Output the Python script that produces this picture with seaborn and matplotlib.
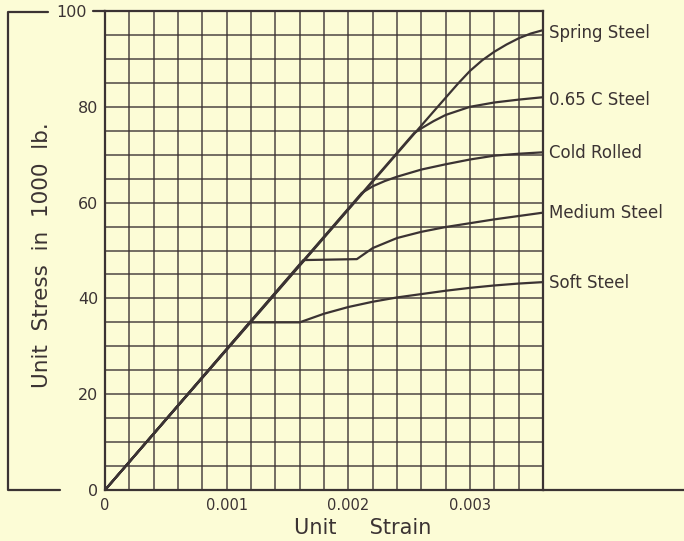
import numpy as np
import pandas as pd
import matplotlib
matplotlib.use("Agg")
import matplotlib.pyplot as plt
import matplotlib.transforms as mtransforms
from matplotlib.lines import Line2D
import seaborn as sns

# stress-strain curves (strain, stress in 1000 lb)
spring_strain = [0, 0.0027, 0.0029, 0.0030, 0.0031, 0.0032, 0.0033, 0.0034, 0.0035, 0.0036]
spring_stress = [0, 79.0, 84.8, 87.5, 89.7, 91.5, 93.0, 94.3, 95.3, 96.0]

c065_strain = [0, 0.00254, 0.0026, 0.0027, 0.0028, 0.0030, 0.0032, 0.0034, 0.0036]
c065_stress = [0, 74.5, 75.5, 77.0, 78.3, 80.0, 80.9, 81.5, 82.0]

cold_strain = [0, 0.00211, 0.0022, 0.0023, 0.0024, 0.0026, 0.0028, 0.0030, 0.0032, 0.0034, 0.0036]
cold_stress = [0, 62.0, 63.4, 64.5, 65.4, 66.9, 68.0, 69.0, 69.8, 70.2, 70.5]

medium_strain = [0, 0.00163, 0.00207, 0.0022, 0.0024, 0.0026, 0.0028, 0.0030, 0.0032, 0.0034, 0.0036]
medium_stress = [0, 48.0, 48.2, 50.5, 52.6, 53.9, 54.9, 55.7, 56.5, 57.2, 57.9]

soft_strain = [0, 0.00119, 0.0016, 0.0018, 0.0020, 0.0022, 0.0024, 0.0026, 0.0028, 0.0030, 0.0032, 0.0034, 0.0036]
soft_stress = [0, 35.0, 35.0, 36.8, 38.2, 39.3, 40.2, 40.9, 41.6, 42.2, 42.7, 43.1, 43.4]

materials = ["Spring Steel", "0.65 C Steel", "Cold Rolled", "Medium Steel", "Soft Steel"]
x_ticks = [0, 0.001, 0.002, 0.003]
x_tick_labels = ["0", "0.001", "0.002", "0.003"]
y_ticks = [0, 20, 40, 60, 80, 100]

series = [
    (spring_strain, spring_stress),
    (c065_strain, c065_stress),
    (cold_strain, cold_stress),
    (medium_strain, medium_stress),
    (soft_strain, soft_stress),
]
frames = []
for name, (sx, sy) in zip(materials, series):
    frames.append(pd.DataFrame({"strain": sx, "stress": sy, "material": name}))
df = pd.concat(frames, ignore_index=True)

bg = "#fcfcd6"
ink = "#3b3333"

sns.set_style("white")
plt.rcParams["font.family"] = ["DejaVu Sans"]

fig = plt.figure(figsize=(6.84, 5.41), dpi=100, facecolor=bg)
ax = fig.add_axes([105 / 684, 51 / 541, 438 / 684, 479 / 541])
ax.set_facecolor(bg)

sns.lineplot(data=df, x="strain", y="stress", hue="material",
             palette={m: ink for m in materials}, legend=False,
             estimator=None, sort=False, linewidth=1.6, ax=ax)

ax.set_xlim(0, 0.0036)
ax.set_ylim(0, 100)

# graph-paper grid (keep minor lines that sit on major ticks)
ax.xaxis.remove_overlapping_locs = False
ax.yaxis.remove_overlapping_locs = False
ax.set_xticks(np.linspace(0, 0.0036, 19), minor=True)
ax.set_yticks(np.linspace(0, 100, 21), minor=True)
ax.grid(which="minor", color=ink, linewidth=1.1, alpha=0.9)
ax.grid(which="major", visible=False)
ax.set_axisbelow(True)

ax.set_xticks(x_ticks)
ax.set_xticklabels(x_tick_labels)
ax.set_yticks(y_ticks)
ax.set_yticklabels([str(v) for v in y_ticks])
ax.tick_params(which="both", length=0, colors=ink)
ax.tick_params(axis="x", pad=6, labelsize=10.5)
ax.tick_params(axis="y", pad=5, labelsize=11.5)

# shift the "100" label left of the extended top rule
off = mtransforms.ScaledTranslation(-8 / 72, 0, fig.dpi_scale_trans)
lab100 = ax.get_yticklabels()[-1]
lab100.set_transform(lab100.get_transform() + off)

for s in ax.spines.values():
    s.set_color(ink)
    s.set_linewidth(1.6)

ax.set_xlabel("Unit     Strain", fontsize=15, color=ink, va="center")
ax.xaxis.set_label_coords((363 - 105) / 438, -38 / 479)
ax.set_ylabel("")
fig.text(42 / 684, 1 - 255 / 541, "Unit  Stress  in  1000  lb.", rotation=90,
         ha="center", va="center", fontsize=15.5, color=ink)

# curve labels at the right edge
label_y = [95.4, 81.4, 70.4, 57.8, 43.2]
for name, yv in zip(materials, label_y):
    ax.annotate(name, xy=(1.0, yv), xycoords=("axes fraction", "data"),
                xytext=(4, 0), textcoords="offset points",
                ha="left", va="center", fontsize=12, color=ink)

# extra rules: baseline extension, top extension and left bracket
def fig_line(xs, ys):
    fig.add_artist(Line2D([x / 684 for x in xs], [1 - y / 541 for y in ys],
                          transform=fig.transFigure, color=ink, linewidth=1.6))

fig_line([543, 684], [490, 490])
fig_line([93, 105], [11, 11])
fig_line([48, 8, 8, 60], [12, 12, 490, 490])

fig.savefig("out.png", dpi=100, facecolor=bg)
